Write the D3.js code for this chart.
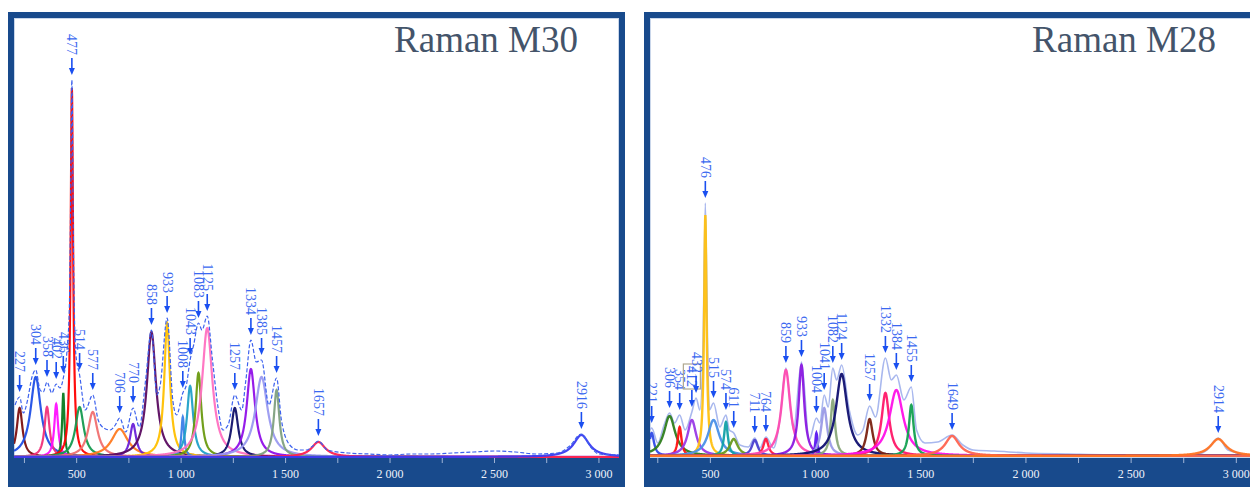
<!DOCTYPE html>
<html>
<head>
<meta charset="utf-8">
<script src="https://cdn.jsdelivr.net/npm/d3@7"></script>
<style>
  body { margin: 0; background: #fff; }
  svg { display: block; }
</style>
</head>
<body>
<script>
// ---------- Raman M30: fitted peaks (centre cm-1, height a.u., fwhm cm-1) ----------
const m30Centers = [227, 304, 358, 402, 436, 477, 514, 577, 706, 770, 858, 933, 1008, 1043, 1083, 1125, 1257, 1334, 1385, 1457, 1657, 2916];
const m30Heights = [49, 80, 50, 53, 64, 369, 50, 45, 28, 33, 125, 134, 40, 71, 84, 129, 49, 88, 80, 67, 15, 22];
const m30Widths  = [33, 60, 29, 22, 13, 14, 48, 55, 95, 35, 52, 33, 16, 35, 33, 60, 40, 48, 72, 32, 80, 90];
const m30Colors  = ['#7b1010', '#1f4fe6', '#f0307a', '#ff10ff', '#0a7a20', '#ff0000', '#159a50', '#f07070',
                    '#ff7a20', '#6a20d8', '#5a0a60', '#ffc000', '#3a80e8', '#20a0c8', '#6a9a10', '#ff70c0',
                    '#10106a', '#9010e8', '#9a9af0', '#80a080', '#ff2050', '#3a3af0'];
const m30MeasX = [205, 227, 245, 265, 285, 304, 325, 340, 358, 381, 402, 420, 436, 455, 465, 470, 477, 485, 495,
                  514, 541, 577, 603, 630, 660, 685, 706, 735, 770, 800, 830, 858, 884, 900, 933, 960, 978,
                  1008, 1025, 1043, 1060, 1083, 1100, 1125, 1150, 1175, 1200, 1225, 1257, 1290, 1310, 1334,
                  1360, 1385, 1420, 1457, 1480, 1520, 1560, 1600, 1630, 1657, 1700, 1800, 1900, 2000, 2100,
                  2200, 2300, 2400, 2500, 2600, 2700, 2800, 2860, 2916, 2960, 3000, 3095];
const m30MeasY = [52, 60, 44, 57, 79, 87, 67, 65, 75, 64, 73, 69, 79, 110, 150, 230, 377, 200, 105,
                  82, 47, 62, 37, 29, 27, 32, 39, 25, 49, 30, 77, 127, 62, 72, 139, 57, 42,
                  64, 72, 97, 112, 134, 127, 141, 97, 52, 27, 32, 62, 47, 77, 117,
                  95, 97, 52, 79, 37, 12, 7, 7, 11, 16, 7, 4, 3, 2, 3,
                  3, 4, 5, 6, 5, 3, 4, 11, 23, 10, 3, 2];
const m30Labels = [227, 304, 358, 402, 436, 477, 514, 577, 706, 770, 858, 933, 1008, 1043, 1083, 1125, 1257, 1334, 1385, 1457, 1657, 2916];

// ---------- Raman M28 ----------
const m28Centers = [221, 306, 354, 412, 476, 515, 574, 611, 711, 764, 859, 933, 1004, 1041, 1082, 1124, 1257, 1332, 1384, 1455, 1649, 2914];
const m28Heights = [23, 40, 29, 36, 241, 36, 34, 17, 16, 17, 86, 91, 23, 48, 56, 82, 37, 63, 66, 51, 20, 17];
const m28Widths  = [27, 65, 21, 50, 14, 65, 22, 47, 35, 30, 50, 32, 13, 35, 25, 65, 36, 44, 80, 27, 80, 90];
const m28Colors  = ['#2f4ae6', '#2e7d1e', '#ff1010', '#9a3ae6', '#ffc010', '#4a90e8', '#12a0a8', '#6a9a20',
                    '#4a40d0', '#ff1840', '#ff4ab0', '#8a18e0', '#5a18f0', '#9a9ae6', '#8aa87a', '#101070',
                    '#7a2212', '#ff1868', '#ff10e8', '#12a050', '#ff6450', '#ff7424'];
const m28MeasX = [213, 221, 250, 280, 306, 330, 354, 380, 412, 432, 450, 465, 476, 487, 495, 515, 545, 574, 590,
                  611, 640, 680, 711, 735, 764, 800, 830, 859, 895, 933, 970, 1004, 1020, 1041, 1060, 1082,
                  1100, 1124, 1160, 1200, 1225, 1257, 1285, 1332, 1360, 1384, 1420, 1455, 1480, 1520, 1580,
                  1649, 1700, 1750, 1850, 2000, 2200, 2500, 2800, 2860, 2914, 2960, 3065];
const m28MeasY = [26, 28, 13, 31, 43, 33, 41, 26, 44, 58, 46, 110, 253, 110, 46, 53, 29, 41, 26,
                  23, 11, 9, 18, 8, 19, 8, 36, 88, 26, 94, 16, 38, 33, 61, 49, 88,
                  76, 91, 46, 21, 26, 50, 39, 98, 76, 81, 56, 69, 26, 13, 14,
                  21, 11, 6, 5, 3, 2, 1, 1, 6, 18, 6, 1];
const m28Labels = [221, 306, 354, 412, 432, 476, 515, 574, 611, 711, 764, 859, 933, 1004, 1041, 1082, 1124, 1257, 1332, 1384, 1455, 1649, 2914];

const xTicks = [500, 1000, 1500, 2000, 2500, 3000];
const xMinorTicks = [250, 750, 1250, 1750, 2250, 2750];

const W = 1250, H = 487;
const svg = d3.select('body').append('svg').attr('width', W).attr('height', H);

const blue = '#184a8c';
const serif = "'Liberation Serif', 'Times New Roman', serif";
const fmt = d => d3.format(',')(d).replace(',', ' ');

function drawPanel(p) {
  const g = svg.append('g');
  // frame + axis band
  g.append('rect').attr('x', p.left).attr('y', 12).attr('width', p.right - p.left).attr('height', H - 12).attr('fill', blue);
  g.append('rect').attr('x', p.left + 6).attr('y', 18).attr('width', p.right - p.left - 12).attr('height', 440).attr('fill', '#fff');
  g.append('rect').attr('x', p.left + 6.5).attr('y', 18.5).attr('width', p.right - p.left - 13).attr('height', 439)
    .attr('fill', 'none').attr('stroke', '#c9d6ea').attr('stroke-width', 1);

  const x = d3.scaleLinear().domain(p.domain).range([p.left + 6, p.plotRight]);
  const y = d3.scaleLinear().domain([0, 400]).range([p.base, p.base - 400]);

  const clipId = 'clip' + p.id;
  svg.append('clipPath').attr('id', clipId).append('rect')
    .attr('x', p.left + 6).attr('y', 18).attr('width', p.plotRight - p.left - 6).attr('height', p.base - 17);
  const plot = g.append('g').attr('clip-path', `url(#${clipId})`);

  // axis line
  plot.append('line').attr('x1', x(p.domain[0])).attr('x2', x(p.domain[1]))
    .attr('y1', y(0)).attr('y2', y(0)).attr('stroke', p.axisColor).attr('stroke-width', 1.5);

  const meas = p.measX.map((v, i) => [v, p.measY[i]]);
  const measLine = d3.line().x(d => x(d[0])).y(d => y(d[1])).curve(d3.curveMonotoneX);

  if (!p.measOnTop) {
    plot.append('path').attr('d', measLine(meas)).attr('fill', 'none')
      .attr('stroke', p.measColor).attr('stroke-width', p.measWidth).attr('stroke-dasharray', p.measDash);
  }

  // fitted Lorentzian components
  const grid = d3.range(p.domain[0], p.domain[1] + 1, 1);
  const compLine = d3.line().x(d => x(d[0])).y(d => y(d[1]));
  p.centers.forEach((c, i) => {
    const h = p.heights[i], w = p.widths[i] / 2;
    const pts = grid.map(v => [v, h / (1 + ((v - c) / w) ** 2)]);
    plot.append('path').attr('d', compLine(pts)).attr('fill', 'none')
      .attr('stroke', p.colors[i]).attr('stroke-width', p.compWidth).attr('stroke-opacity', 0.95);
  });

  if (p.measOnTop) {
    plot.append('path').attr('d', measLine(meas)).attr('fill', 'none')
      .attr('stroke', p.measColor).attr('stroke-width', p.measWidth).attr('stroke-dasharray', p.measDash);
  }

  // peak labels with arrows
  const measMap = new Map(meas);
  const lab = plot.append('g');
  p.labels.forEach(v => {
    const px = x(v), tip = y(measMap.get(v)) - 5;
    lab.append('line').attr('x1', px).attr('x2', px).attr('y1', tip - 17).attr('y2', tip - 5)
      .attr('stroke', '#1a4ff0').attr('stroke-width', 1.6);
    lab.append('path').attr('d', `M${px - 3},${tip - 7}L${px + 3},${tip - 7}L${px},${tip}Z`).attr('fill', '#1a4ff0');
    const t = lab.append('text')
      .attr('transform', `translate(${px - 4.5},${tip - 20}) rotate(90)`)
      .attr('text-anchor', 'end')
      .style('font-family', serif)
      .style('font-size', '14px')
      .attr('fill', '#3a68f0')
      .text(v);
    if (p.boxed && p.boxed.includes(v)) {
      const bb = t.node().getBBox();
      lab.append('rect').attr('transform', `translate(${px - 4.5},${tip - 20}) rotate(90)`)
        .attr('x', bb.x - 2).attr('y', bb.y - 1).attr('width', bb.width + 4).attr('height', bb.height + 2)
        .attr('fill', 'none').attr('stroke', '#b0a890').attr('stroke-width', 1.2);
    }
  });

  // x axis in the band
  const ax = g.append('g');
  ax.selectAll('line.minor').data(xMinorTicks.concat(xTicks).filter(v => v > p.domain[0] && v < p.domain[1]))
    .join('line').attr('x1', d => x(d)).attr('x2', d => x(d)).attr('y1', 458).attr('y2', 463)
    .attr('stroke', '#9fb4d6').attr('stroke-width', 1);
  ax.selectAll('text').data(xTicks).join('text')
    .attr('x', d => x(d)).attr('y', 478).attr('text-anchor', 'middle')
    .style('font-family', serif)
    .style('font-size', '12px').attr('fill', '#eef2fa')
    .text(fmt);

  // title
  g.append('text').attr('x', p.titleX).attr('y', 52).attr('text-anchor', 'end')
    .style('font-family', serif)
    .style('font-size', '37px').attr('fill', '#44546a')
    .text(p.title);
}

drawPanel({
  id: 'm30', left: 8, right: 625, plotRight: 619, base: 457, domain: [200, 3096],
  centers: m30Centers, heights: m30Heights, widths: m30Widths, colors: m30Colors,
  measX: m30MeasX, measY: m30MeasY, labels: m30Labels,
  measColor: '#3d62ee', measWidth: 1.2, measDash: '4,2', measOnTop: true, compWidth: 2.2,
  axisColor: '#a8a4e6', title: 'Raman M30', titleX: 578
});

drawPanel({
  id: 'm28', left: 644, right: 1262, plotRight: 1250, base: 456, domain: [213, 3065],
  centers: m28Centers, heights: m28Heights, widths: m28Widths, colors: m28Colors,
  measX: m28MeasX, measY: m28MeasY, labels: m28Labels, boxed: [412],
  measColor: '#a9b8ee', measWidth: 1.6, measDash: null, measOnTop: false, compWidth: 2.4,
  axisColor: '#a060e8', title: 'Raman M28', titleX: 1216
});
</script>
</body>
</html>
